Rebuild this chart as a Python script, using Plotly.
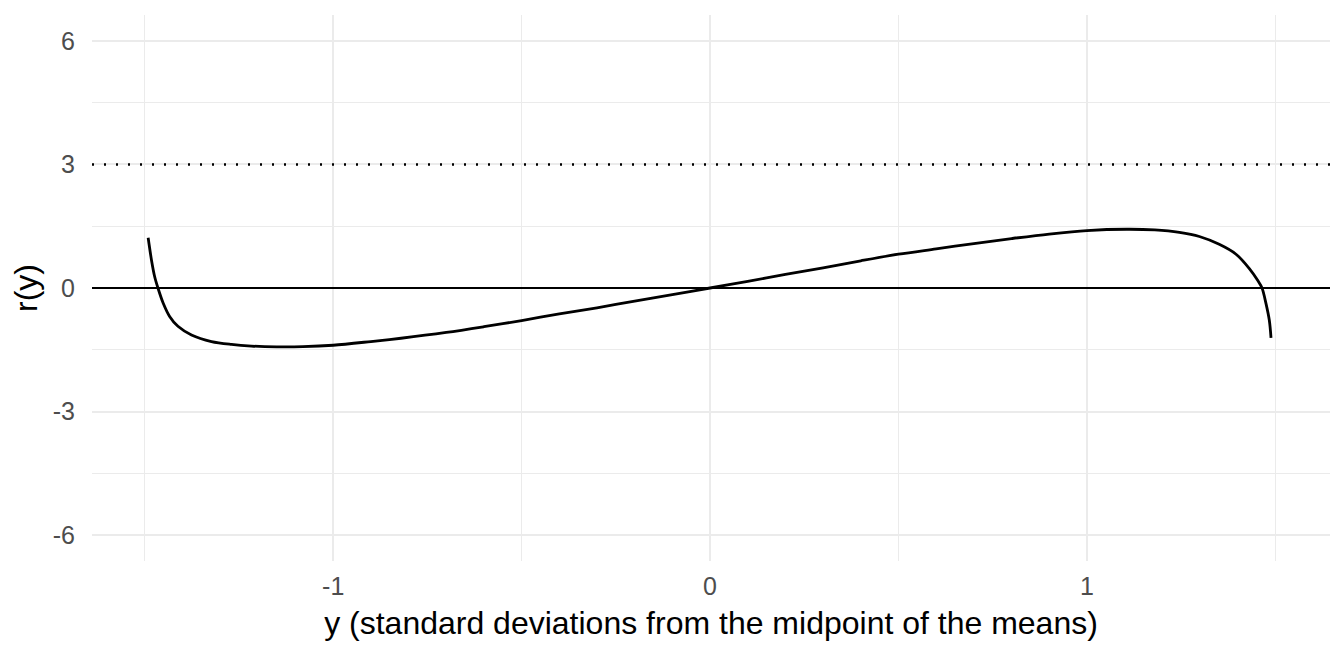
import plotly.graph_objects as go

# curve r(y)
y_vals = [-1.491, -1.482, -1.4735, -1.465, -1.451, -1.434, -1.412, -1.376, -1.323, -1.270,
          -1.217, -1.15, -1.08, -1.0, -0.9, -0.82, -0.7, -0.6, -0.5, -0.4, -0.3, -0.2, -0.1, 0.0,
          0.1, 0.2, 0.3, 0.4, 0.5, 0.6, 0.7, 0.8, 0.9, 1.0, 1.106, 1.18, 1.2454, 1.2984, 1.351,
          1.3956, 1.431, 1.453, 1.4646, 1.4752, 1.484, 1.4885]
r_vals = [1.22, 0.67, 0.267, 0.0, -0.37, -0.69, -0.93, -1.14, -1.30, -1.37,
          -1.41, -1.43, -1.425, -1.39, -1.30, -1.22, -1.08, -0.94, -0.79, -0.63, -0.48, -0.32, -0.16, 0.0,
          0.16, 0.33, 0.49, 0.66, 0.82, 0.95, 1.08, 1.20, 1.31, 1.395, 1.427, 1.41, 1.35, 1.25, 1.06,
          0.82, 0.47, 0.186, 0.0, -0.38, -0.785, -1.21]

hline_zero = 0
hline_dotted = 3

x_ticks = [-1, 0, 1]
x_ticklabels = ["-1", "0", "1"]
x_minor = [-1.5, -0.5, 0.5, 1.5]
y_ticks = [-6, -3, 0, 3, 6]
y_ticklabels = ["-6", "-3", "0", "3", "6"]
y_minor = [-4.5, -1.5, 1.5, 4.5]

fig = go.Figure()
fig.add_trace(go.Scatter(x=y_vals, y=r_vals, mode="lines",
                         line=dict(color="black", width=2.8, shape="spline", smoothing=0.9),
                         showlegend=False, hoverinfo="skip"))

fig.add_hline(y=hline_zero, line=dict(color="black", width=2), layer="above")
fig.add_hline(y=hline_dotted, line=dict(color="black", width=2.4, dash="2px,10px"), layer="above")

grid = "#ebebeb"
fig.update_layout(
    width=1336, height=644,
    margin=dict(l=84, r=14, t=7, b=91, autoexpand=False),
    paper_bgcolor="white", plot_bgcolor="white",
    font=dict(family="Liberation Sans, Arial, sans-serif", color="#4d4d4d"),
    showlegend=False,
)
fig.update_xaxes(
    range=[-1.64, 1.645], tickvals=x_ticks, ticktext=x_ticklabels,
    showgrid=True, gridcolor=grid, gridwidth=2.2, zeroline=False, showline=False,
    ticks="", tickfont=dict(size=25, color="#4d4d4d"), ticklabelstandoff=8,
    minor=dict(tickvals=x_minor, showgrid=True, gridcolor=grid, gridwidth=1.1),
    title=dict(text="y (standard deviations from the midpoint of the means)",
               font=dict(size=32, color="black"), standoff=12),
    automargin=False,
)
fig.update_yaxes(
    range=[-6.63, 6.63], tickvals=y_ticks, ticktext=y_ticklabels,
    showgrid=True, gridcolor=grid, gridwidth=2.2, zeroline=False, showline=False,
    ticks="", tickfont=dict(size=25, color="#4d4d4d"), ticklabelstandoff=16,
    minor=dict(tickvals=y_minor, showgrid=True, gridcolor=grid, gridwidth=1.1),
    title=dict(text="r(y)", font=dict(size=32, color="black"), standoff=6),
    automargin=False,
)

fig.write_html("out.html")
